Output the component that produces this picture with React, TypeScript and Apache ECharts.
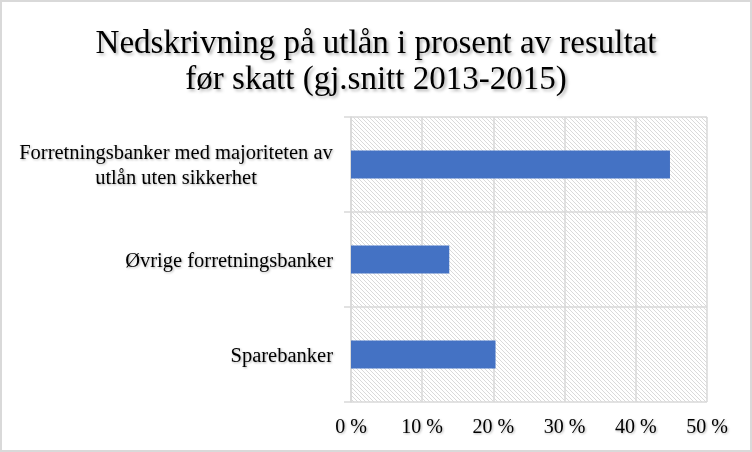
import React, { useEffect, useRef } from "react";
import * as echarts from "echarts";

const titleLines = ["Nedskrivning på utlån i prosent av resultat", "før skatt (gj.snitt 2013-2015)"];
const categories = [
  "Sparebanker",
  "Øvrige forretningsbanker",
  "Forretningsbanker med majoriteten av\nutlån uten sikkerhet",
];
const values = [20.3, 13.8, 44.8];
const xTicks = [0, 10, 20, 30, 40, 50];

function makeHatch(): HTMLCanvasElement {
  const c = document.createElement("canvas");
  const p = 4;
  c.width = p;
  c.height = p;
  const ctx = c.getContext("2d")!;
  ctx.fillStyle = "#ffffff";
  ctx.fillRect(0, 0, p, p);
  ctx.fillStyle = "#dadada";
  for (let i = 0; i < p; i++) ctx.fillRect(i, i, 1, 1);
  return c;
}

export default function App() {
  const ref = useRef<HTMLDivElement>(null);
  useEffect(() => {
    document.body.style.margin = "0";
    const chart = echarts.init(ref.current!, null, { renderer: "svg" });
    const font = "'Liberation Serif', 'Times New Roman', serif";
    const shadow = {
      textShadowColor: "rgba(0,0,0,0.3)",
      textShadowBlur: 2,
      textShadowOffsetX: 1,
      textShadowOffsetY: 1,
    };
    chart.setOption({
      animation: false,
      backgroundColor: "#ffffff",
      title: {
        text: titleLines.join("\n"),
        left: "center",
        top: 19,
        textStyle: {
          fontFamily: font,
          fontSize: 33,
          fontWeight: "normal",
          color: "#000",
          lineHeight: 36,
          ...shadow,
          textShadowBlur: 3,
          textShadowOffsetX: 2,
          textShadowOffsetY: 2,
        },
      },
      graphic: [
        {
          type: "rect",
          shape: { x: 1, y: 1, width: 750, height: 450 },
          style: { fill: "none", stroke: "#d9d9d9", lineWidth: 2 },
          silent: true,
        },
      ],
      grid: {
        left: 351,
        right: 45,
        top: 117,
        bottom: 50,
        show: true,
        borderWidth: 0,
        backgroundColor: { image: makeHatch(), repeat: "repeat" },
      },
      xAxis: {
        type: "value",
        min: xTicks[0],
        max: xTicks[xTicks.length - 1],
        interval: 10,
        axisLine: { show: false },
        axisTick: { show: false },
        splitLine: { show: true, lineStyle: { color: "#d9d9d9", width: 1.5 } },
        axisLabel: {
          fontFamily: font,
          fontSize: 20,
          color: "#000",
          margin: 14,
          formatter: (v: number) => `${v} %`,
          ...shadow,
        },
      },
      yAxis: {
        type: "category",
        data: categories,
        axisLine: { show: true, lineStyle: { color: "#d9d9d9", width: 1.5 } },
        axisTick: { show: true, length: 7, lineStyle: { color: "#d9d9d9", width: 1.5 } },
        splitLine: { show: true, lineStyle: { color: "#d9d9d9", width: 1.5 } },
        axisLabel: {
          fontFamily: font,
          fontSize: 20.5,
          color: "#000",
          margin: 18,
          lineHeight: 25,
          align: "right",
          ...shadow,
          formatter: (v: string) =>
            v.includes("\n")
              ? v
                  .split("\n")
                  .map((l) => `{c|${l}}`)
                  .join("\n")
              : v,
          rich: {
            c: {
              fontFamily: font,
              fontSize: 20.5,
              color: "#000",
              lineHeight: 25,
              width: 314,
              align: "center",
              ...shadow,
            },
          },
        },
      },
      series: [
        {
          type: "bar",
          data: values,
          barWidth: 28,
          itemStyle: { color: "#4472C4" },
        },
      ],
    });
    return () => chart.dispose();
  }, []);
  return <div ref={ref} style={{ width: 752, height: 452 }} />;
}
